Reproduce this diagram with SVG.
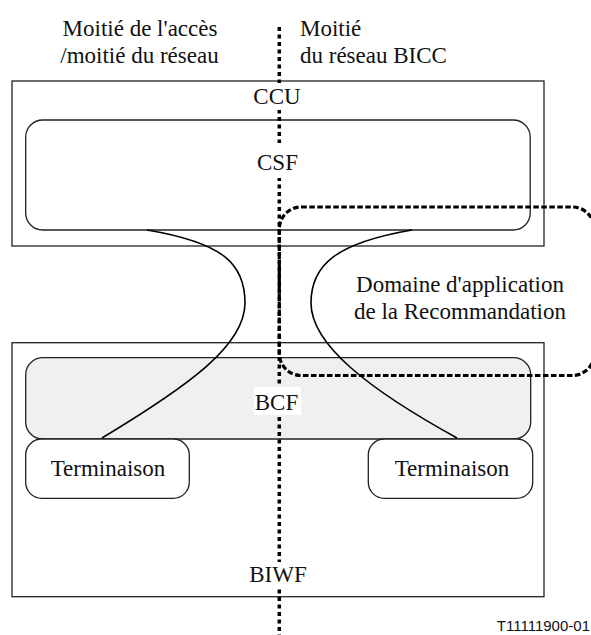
<svg xmlns="http://www.w3.org/2000/svg" width="591" height="635" viewBox="0 0 591 635">
<style>
.box{fill:#fff;stroke:#222;stroke-width:1.3}
.rbox{fill:#fff;stroke:#222;stroke-width:1.3}
.gray{fill:#f0f0f0}
.lbl{font-family:"Liberation Serif","Times New Roman",serif;font-size:23px;fill:#111}
.mid{text-anchor:middle}
.bg{fill:#fff;stroke:none}
.curve{fill:none;stroke:#000;stroke-width:1.6}
.dotv{fill:none;stroke:#000;stroke-width:3.5;stroke-dasharray:4 3.5}
.dotd{fill:none;stroke:#000;stroke-width:3.2;stroke-dasharray:5.5 2.5}
</style>
<rect width="591" height="635" fill="#fff"/>
<g id="ccu">
<rect class="box" x="12" y="81" width="532" height="165"/>
</g>
<g id="csf">
<rect class="rbox" x="25.7" y="120" width="504.5" height="110" rx="17"/>
</g>
<g id="biwf">
<rect class="box" x="12" y="342.7" width="532" height="254"/>
</g>
<g id="bcf">
<rect class="rbox gray" x="25.7" y="357.7" width="505" height="81.3" rx="17"/>
</g>
<g id="term-left">
<rect class="rbox" x="25.7" y="439" width="163.6" height="59.3" rx="16"/>
<text class="lbl mid" x="108" y="475.7">Terminaison</text>
</g>
<g id="term-right">
<rect class="rbox" x="368.3" y="439" width="164.4" height="59.3" rx="16"/>
<text class="lbl mid" x="452" y="475.7">Terminaison</text>
</g>
<g id="connectors">
<path class="curve" d="M147,230 C225,243 245,265 245,303 C245,345 190,385 102,438"/>
<path class="curve" d="M412,230 C336,243 311,265 311,303 C311,345 370,390 457,438"/>
<path class="dotv" d="M279.3,27 V635"/>
</g>
<g id="domain">
<rect class="dotd" x="279.3" y="207" width="315" height="168.5" rx="22"/>
<text class="lbl mid" x="460" y="291.7">Domaine d'application</text>
<text class="lbl mid" x="460" y="319">de la Recommandation</text>
</g>
<g id="labels">
<rect class="bg" x="252" y="83" width="52" height="27"/>
<text class="lbl mid" x="277" y="104">CCU</text>
<rect class="bg" x="252" y="143" width="52" height="35"/>
<text class="lbl mid" x="277.5" y="170">CSF</text>
<rect class="bg" x="254" y="387" width="47" height="28"/>
<text class="lbl mid" x="276.5" y="410">BCF</text>
<rect class="bg" x="247" y="562" width="62" height="26"/>
<text class="lbl mid" x="278" y="581.7">BIWF</text>
<text class="lbl mid" x="140" y="36">Moitié de l'accès</text>
<text class="lbl mid" x="139.5" y="62.7">/moitié du réseau</text>
<text class="lbl" x="300" y="36">Moitié</text>
<text class="lbl" x="300" y="63">du réseau BICC</text>
<text x="590" y="631" text-anchor="end" font-family="'Liberation Sans',Arial,sans-serif" font-size="15" fill="#111">T11111900-01</text>
</g>
</svg>
